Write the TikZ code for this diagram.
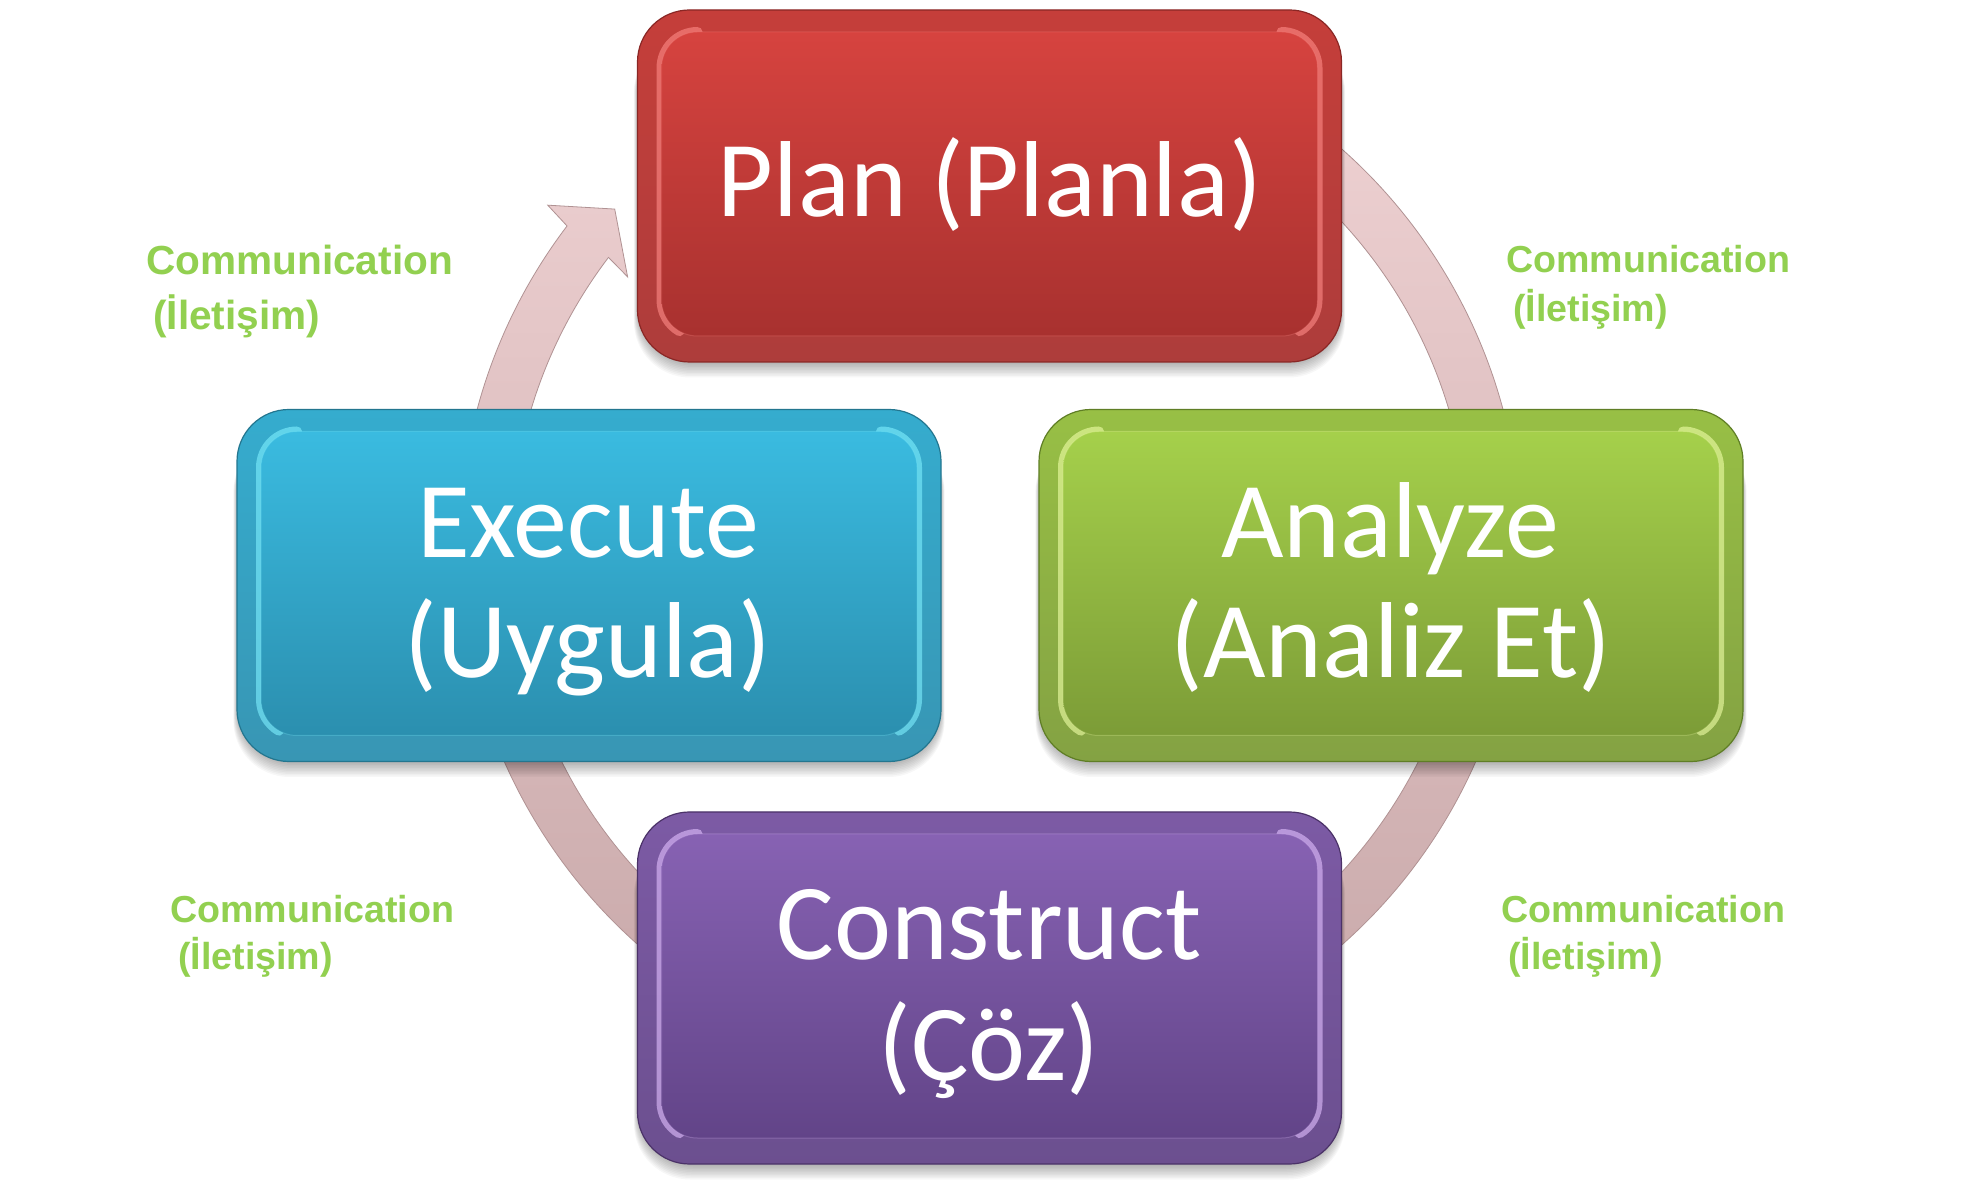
\documentclass[tikz,border=0pt]{standalone}
\usepackage{fontspec}
\setmainfont{Carlito}
\newfontfamily\labfont{Liberation Sans}
\usetikzlibrary{calc}
\definecolor{ringtop}{HTML}{F4D7D8}
\definecolor{ringbot}{HTML}{C4A4A5}
\definecolor{ringedge}{HTML}{B09293}
\definecolor{commgreen}{HTML}{92D050}
\definecolor{plantop}{HTML}{D6433F}
\definecolor{planbot}{HTML}{A8312F}
\definecolor{planhl}{HTML}{FF8C88}
\definecolor{planedge}{HTML}{8A2725}
\definecolor{exetop}{HTML}{3ABBE0}
\definecolor{exebot}{HTML}{2B8FAF}
\definecolor{exehl}{HTML}{7FF0FF}
\definecolor{exeedge}{HTML}{23768F}
\definecolor{anatop}{HTML}{A5D04B}
\definecolor{anabot}{HTML}{7C9C37}
\definecolor{anahl}{HTML}{F0FFA8}
\definecolor{anaedge}{HTML}{5F7E25}
\definecolor{contop}{HTML}{8762B3}
\definecolor{conbot}{HTML}{624488}
\definecolor{conhl}{HTML}{E2C0FF}
\definecolor{conedge}{HTML}{4B3268}
\tikzset{
  boxtext/.style={text=white, font=\fontsize{108}{120}\selectfont, anchor=base, inner sep=0pt},
  commbig/.style={text=commgreen, font=\labfont\bfseries\fontsize{40.6}{48}\selectfont, anchor=base west, inner sep=0pt},
  commsmall/.style={text=commgreen, font=\labfont\bfseries\fontsize{37.6}{45}\selectfont, anchor=base west, inner sep=0pt},
  ringstyle/.style={top color=ringtop, bottom color=ringbot, draw=ringedge, line width=0.8pt}
}
\newcommand\GlossBox[7]{%
\begin{scope}[shift={(#2,#3)}]
 \foreach \k in {0,...,9}{\fill[black,opacity=0.03,rounded corners=56pt] ({-352-0.4*\k},{-178-1.5*\k}) rectangle ({352+0.4*\k},150);}
 \node[name=#1, draw=#7, line width=1.2pt, rounded corners=52pt, minimum width=704pt, minimum height=352pt, inner sep=0pt, top color=#4!92!black, bottom color=#5!94!white] at (0,0) {};
 \draw[#6, line width=10pt, opacity=0.6, line cap=round]
   (-292,154) arc[start angle=90, end angle=180, radius=36] -- (-328,-114)
   arc[start angle=180, end angle=240, radius=36];
 \draw[#6, line width=10pt, opacity=0.6, line cap=round]
   (292,154) arc[start angle=90, end angle=0, radius=36] -- (328,-114)
   arc[start angle=0, end angle=-60, radius=36];
 \shade[rounded corners=36pt, top color=#4, bottom color=#5] (-328,-150) rectangle (328,154);
 \draw[#6, line width=1pt, opacity=0.25, rounded corners=36pt] (-328,-150) rectangle (328,154);
\end{scope}}
\begin{document}
\begin{tikzpicture}[x=1pt,y=1pt]
\useasboundingbox (0,0) rectangle (1980,1202);
\fill[white] (0,0) rectangle (1980,1202);
% cycle arrow
\begin{scope}[shift={(990,655)}]
 \shade[ringstyle] (120:531) arc[start angle=120, end angle=-217.2, radius=531]
   -- (-217.7:559) -- (-222:505) -- (-216.7:452) -- (-217.2:479)
   arc[start angle=-217.2, end angle=120, radius=479] -- cycle;
\end{scope}
% boxes
\GlossBox{plan}{989.5}{1016}{plantop}{planbot}{planhl}{planedge}
\GlossBox{execute}{589}{616.5}{exetop}{exebot}{exehl}{exeedge}
\GlossBox{analyze}{1391}{616.5}{anatop}{anabot}{anahl}{anaedge}
\GlossBox{construct}{989.5}{214}{contop}{conbot}{conhl}{conedge}
% box texts
\node[boxtext] (plantxt) at (990,985) {Plan (Planla)};
\node[boxtext] (exe1) at (588,644) {Execute};
\node[boxtext] (exe2) at (588,524) {(Uygula)};
\node[boxtext] (ana1) at (1390,644) {Analyze};
\node[boxtext] (ana2) at (1391,524) {(Analiz Et)};
\node[boxtext] (con1) at (989,242) {Construct};
\node[boxtext] (con2) at (989,122) {(Çöz)};
% communication labels
\node[commbig] (tl1) at (146,927) {Communication};
\node[commbig] (tl2) at (153,872) {(İletişim)};
\node[commsmall] (tr1) at (1506,929) {Communication};
\node[commsmall] (tr2) at (1513,880) {(İletişim)};
\node[commsmall] (bl1) at (170,279) {Communication};
\node[commsmall] (bl2) at (178,232) {(İletişim)};
\node[commsmall] (br1) at (1501,279) {Communication};
\node[commsmall] (br2) at (1508,232) {(İletişim)};
\end{tikzpicture}
\end{document}
